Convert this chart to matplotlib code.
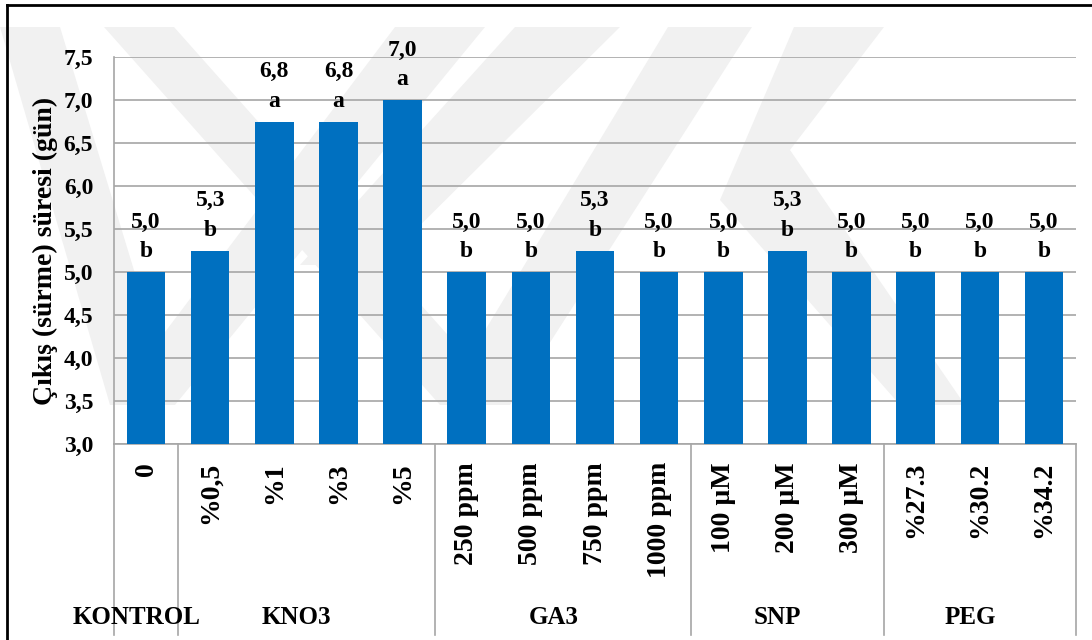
import matplotlib
matplotlib.use('Agg')
import matplotlib.pyplot as plt
from matplotlib.patches import Polygon
from matplotlib.lines import Line2D

plt.rcParams['font.family'] = ['Liberation Serif', 'DejaVu Serif']
plt.rcParams['font.weight'] = 'bold'

# data
treatments = ['0', '%0,5', '%1', '%3', '%5',
              '250 ppm', '500 ppm', '750 ppm', '1000 ppm',
              '100 µM', '200 µM', '300 µM',
              '%27.3', '%30.2', '%34.2']
values = [5.0, 5.25, 6.75, 6.75, 7.0,
          5.0, 5.0, 5.25, 5.0,
          5.0, 5.25, 5.0,
          5.0, 5.0, 5.0]
value_labels = ['5,0', '5,3', '6,8', '6,8', '7,0',
                '5,0', '5,0', '5,3', '5,0',
                '5,0', '5,3', '5,0',
                '5,0', '5,0', '5,0']
letters = ['b', 'b', 'a', 'a', 'a',
           'b', 'b', 'b', 'b',
           'b', 'b', 'b',
           'b', 'b', 'b']
groups = ['KONTROL', 'KNO3', 'GA3', 'SNP', 'PEG']
group_sizes = [1, 4, 4, 3, 3]
yticks = [3.0, 3.5, 4.0, 4.5, 5.0, 5.5, 6.0, 6.5, 7.0, 7.5]

W, H = 1092, 640
fig = plt.figure(figsize=(W / 100, H / 100), dpi=100)

def px(x, y):
    return (x / W, 1 - y / H)

# faint watermark behind the chart (rough shape)
wm = [
    [(0, 27), (60, 27), (175, 405), (110, 405)],
    [(395, 27), (485, 27), (175, 405), (110, 405)],
    [(104, 27), (174, 27), (510, 405), (440, 405)],
    [(668, 27), (752, 27), (510, 405), (440, 405)],
    [(515, 27), (620, 27), (380, 265), (300, 265)],
    [(794, 27), (884, 27), (790, 150), (965, 405), (900, 405), (720, 200)],
]
for poly in wm:
    fig.add_artist(Polygon([px(*p) for p in poly], closed=True,
                           facecolor='#f1f1f1', edgecolor='none', zorder=-5))

# frame of the picture
fig.add_artist(Line2D([7 / W, 1], [1 - 5 / H, 1 - 5 / H], color='black', lw=2))
fig.add_artist(Line2D([7 / W, 7 / W], [0, 1 - 5 / H], color='black', lw=2))

ax = fig.add_axes([114 / W, 1 - 444 / H, (1076 - 114) / W, (444 - 57) / H])
ax.patch.set_alpha(0)

x = list(range(len(values)))
ax.bar(x, [v - 3.0 for v in values], bottom=3.0, width=0.6, color='#0070c0', zorder=3)

ax.set_xlim(-0.5, len(values) - 0.5)
ax.set_ylim(3.0, 7.5)
ax.set_yticks(yticks)
ax.set_yticklabels([('%.1f' % t).replace('.', ',') for t in yticks], fontsize=17, fontweight='bold')
ax.tick_params(axis='y', length=0, pad=15)
ax.yaxis.grid(True, color='#a6a6a6', lw=1.2, zorder=0)
ax.set_axisbelow(True)

for s in ['top', 'right']:
    ax.spines[s].set_visible(False)
for s in ['left', 'bottom']:
    ax.spines[s].set_color('#a6a6a6')
    ax.spines[s].set_linewidth(1.2)

ax.set_xticks(x)
ax.set_xticklabels(treatments, rotation=90, fontsize=20, fontweight='bold')
ax.tick_params(axis='x', length=0, pad=13)

ax.set_ylabel('Çıkış (sürme) süresi (gün)', fontsize=20, fontweight='bold')
ax.yaxis.set_label_coords(-0.058, 0.5)

# value and letter labels
for xi, v, lab, let in zip(x, values, value_labels, letters):
    ax.annotate(let, (xi, v), xytext=(0, 14.5), textcoords='offset points',
                ha='center', va='center', fontsize=17, fontweight='bold')
    ax.annotate(lab, (xi, v), xytext=(0, 36), textcoords='offset points',
                ha='center', va='center', fontsize=17, fontweight='bold',
                annotation_clip=False)

# group separators and group names
depth = (635 - 444) / (444 - 57)
trans = ax.get_xaxis_transform()
start = -0.5
ax.plot([start, start], [0, -depth], color='#a6a6a6', lw=1.2, transform=trans, clip_on=False)
for g, n in zip(groups, group_sizes):
    end = start + n
    ax.plot([end, end], [0, -depth], color='#a6a6a6', lw=1.2, transform=trans, clip_on=False)
    ax.text((start + end) / 2 - 0.15, -(617 - 444) / (444 - 57), g, transform=trans,
            ha='center', va='center', fontsize=18, fontweight='bold')
    start = end

fig.savefig('out.png', dpi=100)
